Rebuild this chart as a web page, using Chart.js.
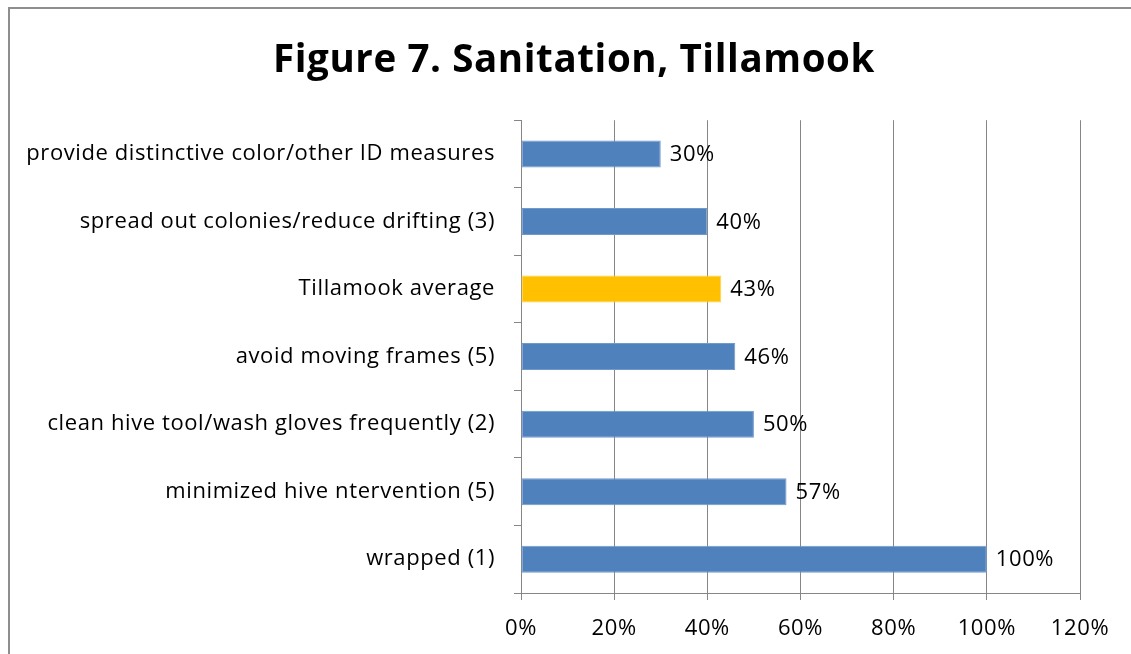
<!DOCTYPE html>
<html>
<head>
<meta charset="utf-8">
<script src="https://cdn.jsdelivr.net/npm/chart.js@4"></script>
<style>
  html, body { margin: 0; padding: 0; background: #fff; overflow: hidden; }
  #frame {
    position: absolute; left: 8px; top: 7px;
    width: 1200px; height: 700px;
    border: 2px solid #8e8e8e; box-sizing: border-box;
  }
  #wrap { position: absolute; left: 0; top: 0; width: 1131px; height: 654px; }
</style>
</head>
<body>
<div id="frame"></div>
<div id="wrap"><canvas id="chart"></canvas></div>
<script>
  const categories = [
    'provide distinctive color/other ID measures',
    'spread out colonies/reduce drifting (3)',
    'Tillamook average',
    'avoid moving frames (5)',
    'clean hive tool/wash gloves frequently (2)',
    'minimized hive ntervention (5)',
    'wrapped (1)'
  ];
  const values = [30, 40, 43, 46, 50, 57, 100];
  const xTicks = [0, 20, 40, 60, 80, 100, 120];

  const BLUE = '#4F81BD';
  const GOLD = '#FFC000';
  const FONT = '"Open Sans", Lato, sans-serif';
  const LABEL_SIZE = 22;

  // slightly looser tracking for all chart text
  const tracking = {
    id: 'tracking',
    beforeDraw(chart) {
      chart.ctx.letterSpacing = '0.6px';
    }
  };

  // value labels just past the end of each bar
  const barLabels = {
    id: 'barLabels',
    afterDatasetsDraw(chart) {
      const ctx = chart.ctx;
      const meta = chart.getDatasetMeta(0);
      ctx.save();
      ctx.font = LABEL_SIZE + 'px ' + FONT;
      ctx.fillStyle = '#000';
      ctx.textAlign = 'left';
      ctx.textBaseline = 'middle';
      meta.data.forEach((bar, i) => {
        ctx.fillText(values[i] + '%', bar.x + 9, bar.y + 1);
      });
      ctx.restore();
    }
  };

  new Chart(document.getElementById('chart'), {
    type: 'bar',
    data: {
      labels: categories,
      datasets: [{
        data: values,
        backgroundColor: categories.map(c => c === 'Tillamook average' ? GOLD : BLUE),
        borderColor: categories.map(c => c === 'Tillamook average' ? '#FFD24D' : '#7199CB'),
        borderWidth: 1,
        borderSkipped: false,
        categoryPercentage: 1,
        barPercentage: 0.4
      }]
    },
    options: {
      indexAxis: 'y',
      responsive: true,
      maintainAspectRatio: false,
      animation: false,
      layout: { padding: { left: 17, right: 0, top: 0, bottom: 0 } },
      plugins: {
        legend: { display: false },
        tooltip: { enabled: false },
        title: {
          display: true,
          text: 'Figure 7. Sanitation, Tillamook',
          color: '#000',
          font: { family: FONT, size: 38.5, weight: 'bold' },
          padding: { top: 38, bottom: 36 }
        }
      },
      scales: {
        x: {
          min: 0,
          max: 120,
          afterBuildTicks: s => { s.ticks = xTicks.map(v => ({ value: v })); },
          afterFit: s => { s.height = 61; s.paddingRight = 51; },
          grid: { color: '#868686', lineWidth: 1, tickLength: 7 },
          border: { color: '#868686', width: 1 },
          ticks: {
            color: '#000',
            padding: 16,
            font: { family: FONT, size: LABEL_SIZE },
            callback: v => v + '%'
          }
        },
        y: {
          afterFit: s => { s.width = 504; },
          grid: { drawOnChartArea: false, color: '#868686', tickLength: 7, offset: true },
          border: { color: '#868686', width: 1 },
          ticks: {
            color: '#000',
            padding: 19,
            font: { family: FONT, size: LABEL_SIZE }
          }
        }
      }
    },
    plugins: [tracking, barLabels]
  });
</script>
</body>
</html>
